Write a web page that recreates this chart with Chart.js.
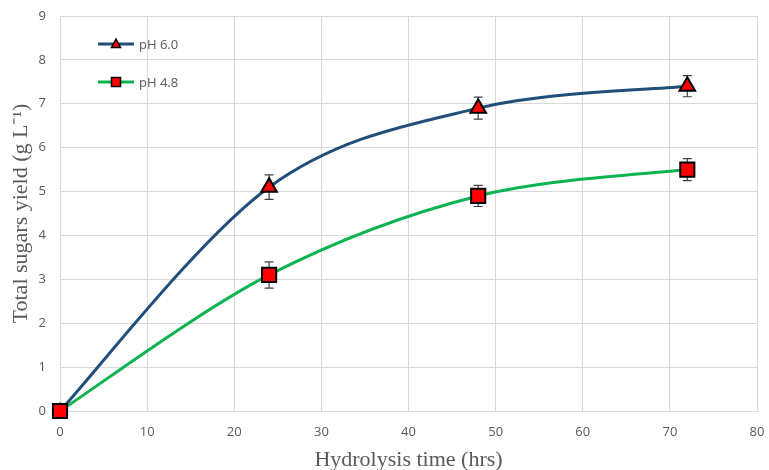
<!DOCTYPE html>
<html>
<head>
<meta charset="utf-8">
<script src="https://cdn.jsdelivr.net/npm/chart.js@4/dist/chart.umd.min.js"></script>
<style>
  html, body { margin: 0; padding: 0; background: #ffffff; }
  #wrap { width: 769px; height: 470px; position: relative; }
</style>
</head>
<body>
<div id="wrap"><canvas id="c"></canvas></div>
<script>
// Hydrolysis time points (hrs)
const hours = [0, 24, 48, 72];
// Total sugars yield (g/L) and standard deviations
const ph60 = [0, 5.1, 6.9, 7.4];
const ph60Err = [0, 0.28, 0.25, 0.24];
const ph48 = [0, 3.1, 4.9, 5.5];
const ph48Err = [0, 0.3, 0.24, 0.25];
const seriesNames = ['pH 6.0', 'pH 4.8'];
const xTicks = [0, 10, 20, 30, 40, 50, 60, 70, 80];
const yTicks = [0, 1, 2, 3, 4, 5, 6, 7, 8, 9];

const BLUE = '#214e7b';
const GREEN = '#0cb450';
const TEXT = '#595959';
const GRID = '#d9d9d9';

const toPts = (ys) => hours.map((h, i) => ({ x: h, y: ys[i] }));

// Catmull-Rom style smoothing: each control point sits 1/6 of the
// neighbour-to-neighbour span away from its point (ends reuse themselves).
const smoothCurve = {
  id: 'smoothCurve',
  beforeDatasetsDraw(chart) {
    chart.data.datasets.forEach((ds, di) => {
      const meta = chart.getDatasetMeta(di);
      const pts = meta.data;
      pts.forEach((p, i) => {
        const prev = pts[i - 1] || p;
        const next = pts[i + 1] || p;
        const dx = (next.x - prev.x) / 6;
        const dy = (next.y - prev.y) / 6;
        p.cp1x = p.x - dx; p.cp1y = p.y - dy;
        p.cp2x = p.x + dx; p.cp2y = p.y + dy;
      });
      if (meta.dataset) meta.dataset._pointsUpdated = true;
    });
  }
};

// Error bars with caps, drawn beneath the markers
const errorBars = {
  id: 'errorBars',
  beforeDatasetsDraw(chart) {
    const { ctx, scales: { x, y } } = chart;
    const errs = [ph60Err, ph48Err];
    ctx.save();
    ctx.strokeStyle = '#404040';
    ctx.lineWidth = 1.2;
    chart.data.datasets.forEach((ds, di) => {
      ds.data.forEach((p, i) => {
        const e = errs[di][i];
        if (!e) return;
        const px = x.getPixelForValue(p.x);
        const top = y.getPixelForValue(p.y + e);
        const bot = y.getPixelForValue(p.y - e);
        ctx.beginPath();
        ctx.moveTo(px, top); ctx.lineTo(px, bot);
        ctx.moveTo(px - 4.5, top); ctx.lineTo(px + 4.5, top);
        ctx.moveTo(px - 4.5, bot); ctx.lineTo(px + 4.5, bot);
        ctx.stroke();
      });
    });
    ctx.restore();
  }
};

// Legend placed inside the plot area, upper left
const innerLegend = {
  id: 'innerLegend',
  afterDraw(chart) {
    const { ctx } = chart;
    const rows = [
      { ds: chart.data.datasets[0], y: 44 },
      { ds: chart.data.datasets[1], y: 82 }
    ];
    ctx.save();
    rows.forEach(({ ds, y }) => {
      const x0 = 98, x1 = 134, cx = 116;
      ctx.strokeStyle = ds.borderColor;
      ctx.lineWidth = 3;
      ctx.beginPath(); ctx.moveTo(x0, y); ctx.lineTo(x1, y); ctx.stroke();
      ctx.fillStyle = 'red';
      ctx.strokeStyle = '#000';
      ctx.lineWidth = 1.5;
      if (ds.pointStyle === 'triangle') {
        ctx.beginPath();
        ctx.moveTo(cx, y - 5); ctx.lineTo(cx + 4.5, y + 3.5); ctx.lineTo(cx - 4.5, y + 3.5); ctx.closePath();
        ctx.fill(); ctx.stroke();
      } else {
        ctx.fillRect(cx - 4.5, y - 4.5, 9, 9);
        ctx.strokeRect(cx - 4.5, y - 4.5, 9, 9);
      }
      ctx.fillStyle = TEXT;
      ctx.font = '13px "Open Sans"';
      ctx.textBaseline = 'middle';
      ctx.fillText(ds.label, 139, y + 1);
    });
    ctx.restore();
  }
};

const tickFont = { family: 'Open Sans', size: 13 };
const titleFont = { family: 'Liberation Serif', size: 22, lineHeight: 1 };

new Chart(document.getElementById('c'), {
  type: 'line',
  data: {
    datasets: [
      {
        label: seriesNames[0],
        data: toPts(ph60),
        borderColor: BLUE,
        borderWidth: 3,
        tension: 0.4,
        clip: false,
        pointStyle: 'triangle',
        // the origin marker sits behind the square of the other series
        pointRadius: [7, 9, 9, 9],
        pointBackgroundColor: '#ff0000',
        pointBorderColor: '#000000',
        pointBorderWidth: 2,
        order: 1
      },
      {
        label: seriesNames[1],
        data: toPts(ph48),
        borderColor: GREEN,
        borderWidth: 3,
        tension: 0.4,
        clip: false,
        pointStyle: 'rect',
        pointRadius: 10,
        pointBackgroundColor: '#ff0000',
        pointBorderColor: '#000000',
        pointBorderWidth: 2,
        order: 0
      }
    ]
  },
  options: {
    responsive: true,
    maintainAspectRatio: false,
    animation: false,
    layout: { padding: { top: 16, right: 10, left: 0, bottom: 0 } },
    plugins: { legend: { display: false }, tooltip: { enabled: false } },
    scales: {
      x: {
        type: 'linear',
        min: 0, max: 80,
        afterBuildTicks: (s) => { s.ticks = xTicks.map(v => ({ value: v })); },
        afterFit: (s) => { s.height = 59; s.paddingLeft = 0; s.paddingRight = 0; },
        grid: { color: GRID, lineWidth: 1, drawTicks: false },
        border: { color: GRID },
        ticks: { color: TEXT, font: tickFont, padding: 13, maxRotation: 0 },
        title: {
          display: true, text: 'Hydrolysis time (hrs)', color: TEXT,
          font: titleFont,
          padding: { top: 0, bottom: -1 }
        }
      },
      y: {
        type: 'linear',
        min: 0, max: 9,
        afterBuildTicks: (s) => { s.ticks = yTicks.map(v => ({ value: v })); },
        afterFit: (s) => { s.width = 60; s.paddingTop = 0; s.paddingBottom = 0; },
        grid: { color: GRID, lineWidth: 1, drawTicks: false },
        border: { color: GRID },
        ticks: { color: TEXT, font: tickFont, padding: 14 },
        title: {
          display: true, text: 'Total sugars yield (g L\u207B\u00B9)', color: TEXT,
          font: titleFont,
          padding: { top: 10, bottom: 0 }
        }
      }
    }
  },
  plugins: [smoothCurve, errorBars, innerLegend]
});
</script>
</body>
</html>
